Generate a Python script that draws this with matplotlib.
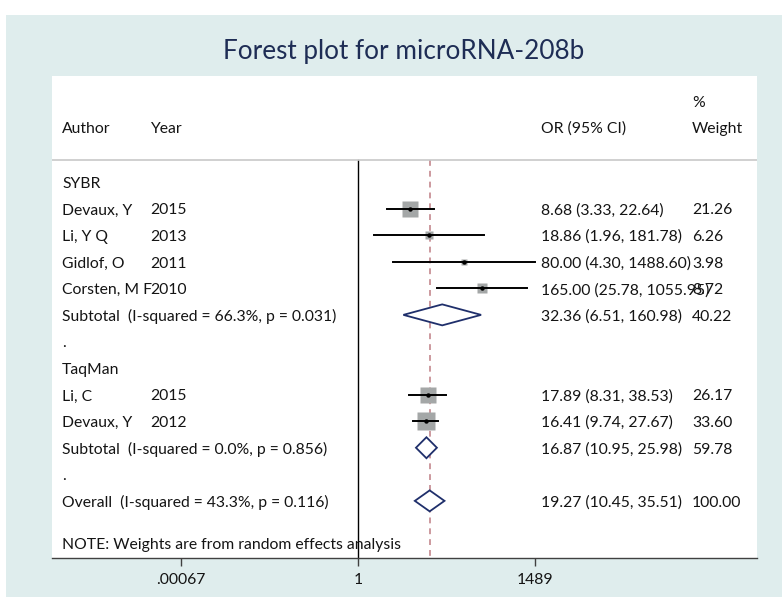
import numpy as np
import matplotlib
matplotlib.use("Agg")
import matplotlib.pyplot as plt
from matplotlib.patches import Polygon, Rectangle

# Study-level data
groups = ["SYBR", "TaqMan"]
authors = ["Devaux, Y", "Li, Y Q", "Gidlof, O", "Corsten, M F", "Li, C", "Devaux, Y"]
years = [2015, 2013, 2011, 2010, 2015, 2012]
study_group = ["SYBR", "SYBR", "SYBR", "SYBR", "TaqMan", "TaqMan"]
odds = [8.68, 18.86, 80.00, 165.00, 17.89, 16.41]
ci_low = [3.33, 1.96, 4.30, 25.78, 8.31, 9.74]
ci_high = [22.64, 181.78, 1488.60, 1055.95, 38.53, 27.67]
weights = [21.26, 6.26, 3.98, 8.72, 26.17, 33.60]

# Subgroup pooled estimates
sub_or = [32.36, 16.87]
sub_low = [6.51, 10.95]
sub_high = [160.98, 25.98]
sub_weight = [40.22, 59.78]
sub_i2 = [66.3, 0.0]
sub_p = [0.031, 0.856]

# Overall pooled estimate
overall_or = 19.27
overall_low = 10.45
overall_high = 35.51
overall_i2 = 43.3
overall_p = 0.116

xticks = [0.00067, 1, 1489]
xtick_labels = [".00067", "1", "1489"]

FONT = "Lato"
TXT = "#141414"
NAVY = "#1f2f6b"
GRAY = "#a4a7a7"
BG = "#dfeded"

fig = plt.figure(figsize=(7.82, 6.02), dpi=100)
fig.patch.set_facecolor("white")
fig.add_artist(Rectangle((6 / 782, 5 / 602), 776 / 782, 582 / 602,
                         transform=fig.transFigure, facecolor=BG,
                         edgecolor="none", zorder=-10))

ax = fig.add_axes([52 / 782, 44 / 602, 705 / 782, 482 / 602])
ax.set_facecolor("white")
ax.set_xscale("log")
ax.set_xlim(np.exp(-12.63), np.exp(16.47))
ax.set_ylim(14.15, -3.99)

tx = ax.get_yaxis_transform()  # x in axes fraction, y in data
col_author, col_year, col_ci, col_w = 0.0142, 0.139, 0.6936, 0.9078
fs = 11.3
dy = 0.07  # small nudge so text sits like the original


def put(x, y, s):
    ax.text(x, y + dy, s, transform=tx, ha="left", va="center",
            fontsize=fs, family=FONT, color=TXT)


def diamond(y, est, lo, hi):
    h = 0.395
    ax.add_patch(Polygon([(lo, y), (est, y - h), (hi, y), (est, y + h)],
                         closed=True, facecolor="white", edgecolor=NAVY,
                         lw=1.3, zorder=4))


# header
put(col_w, -3.05, "%")
put(col_author, -2.07, "Author")
put(col_year, -2.07, "Year")
put(col_ci, -2.07, "OR (95% CI)")
put(col_w, -2.07, "Weight")
ax.axhline(-0.83, color="#c8c8c8", lw=1.2)

row = 0
for gi, g in enumerate(groups):
    put(col_author, row, g)
    row += 1
    for i in range(len(authors)):
        if study_group[i] != g:
            continue
        put(col_author, row, authors[i])
        put(col_year, row, str(years[i]))
        put(col_ci, row, f"{odds[i]:.2f} ({ci_low[i]:.2f}, {ci_high[i]:.2f})")
        put(col_w, row, f"{weights[i]:.2f}")
        ax.plot([ci_low[i], ci_high[i]], [row, row], color="black", lw=1.4, zorder=3)
        side = 3.27 * np.sqrt(weights[i]) * 0.72
        ax.plot(odds[i], row, marker="s", ms=side, color=GRAY, mec="none", zorder=2)
        ax.plot(odds[i], row, marker="o", ms=3.2, color="black", mec="none", zorder=4)
        row += 1
    put(col_author, row, f"Subtotal  (I-squared = {sub_i2[gi]:.1f}%, p = {sub_p[gi]:.3f})")
    put(col_ci, row, f"{sub_or[gi]:.2f} ({sub_low[gi]:.2f}, {sub_high[gi]:.2f})")
    put(col_w, row, f"{sub_weight[gi]:.2f}")
    diamond(row, sub_or[gi], sub_low[gi], sub_high[gi])
    row += 1
    put(col_author, row, ".")
    row += 1

put(col_author, row, f"Overall  (I-squared = {overall_i2:.1f}%, p = {overall_p:.3f})")
put(col_ci, row, f"{overall_or:.2f} ({overall_low:.2f}, {overall_high:.2f})")
put(col_w, row, f"{sum(sub_weight):.2f}")
diamond(row, overall_or, overall_low, overall_high)
put(col_author, row + 1.58, "NOTE: Weights are from random effects analysis")

# reference lines
ax.plot([1, 1], [-0.83, 14.15], color="black", lw=1.0, zorder=1)
ax.plot([overall_or, overall_or], [-0.83, 14.15], color="#c3878d", lw=1.2,
        dashes=(3.5, 3), zorder=1)

for s in ["top", "left", "right"]:
    ax.spines[s].set_visible(False)
ax.spines["bottom"].set_color("#404040")
ax.spines["bottom"].set_linewidth(1.0)
ax.set_yticks([])
ax.set_xticks(xticks)
ax.set_xticklabels(xtick_labels, family=FONT, fontsize=fs, color=TXT)
ax.xaxis.set_minor_locator(matplotlib.ticker.NullLocator())
ax.tick_params(axis="x", direction="out", length=6, width=1.0, color="#404040", pad=5)

fig.text(404 / 782, 1 - 52 / 602, "Forest plot for microRNA-208b", ha="center",
         va="center", fontsize=18.8, family=FONT, color="#1e2d55")

fig.savefig("out.png", dpi=100)
